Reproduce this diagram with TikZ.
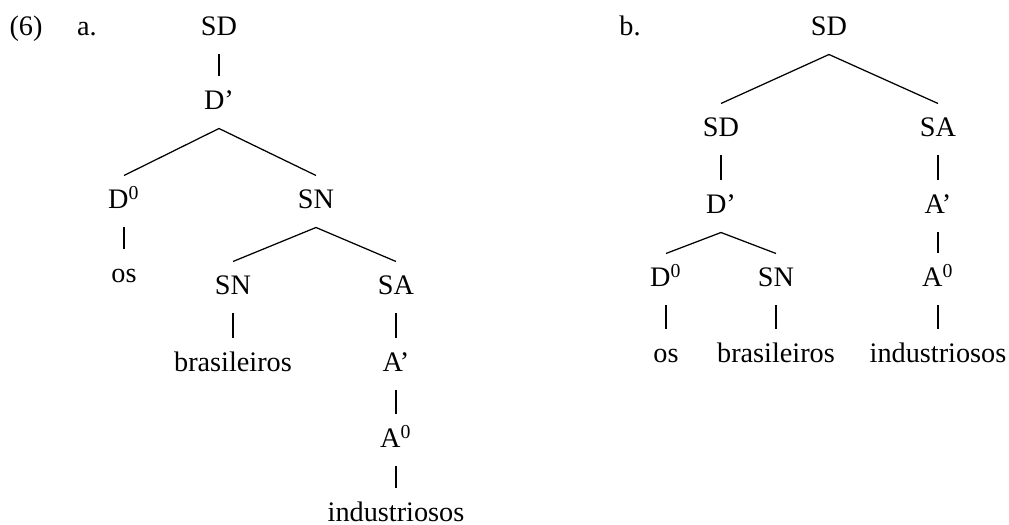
\documentclass[tikz,border=0pt]{standalone}
\usepackage{fontspec}
\setmainfont{Liberation Serif}

\begin{document}
\begin{tikzpicture}[x=0.4pt, y=-0.4pt, font=\fontsize{11.3}{13}\selectfont]
   \useasboundingbox (0,0) rectangle (1009,525);
   \begin{scope}[every node/.style={anchor=base, inner sep=0pt, text height=13.2pt, text depth=7.2pt}]
    \node (ex) at (26,36) {(6)};
    \node (la) at (87,36) {a.};
    \node (a1) at (219,36) {SD};
    \node (a2) at (219,110) {D'};
    \node (a3) at (124,209) {D\textsuperscript{0}};
    \node (a4) at (316,209) {SN};
    \node (a5) at (124,283) {os};
    \node (a6) at (233,295) {SN};
    \node (a7) at (396,295) {SA};
    \node (a8) at (233,372) {brasileiros};
    \node (a9) at (396,372) {A'};
    \node (a10) at (396,448) {A\textsuperscript{0}};
    \node (a11) at (396,522) {industriosos};
    % second tree
    \node (lb) at (630,36) {b.};
    \node (b1) at (829,36) {SD};
    \node (b2) at (721,137) {SD};
    \node (b3) at (938,137) {SA};
    \node (b4) at (721,214) {D'};
    \node (b5) at (938,214) {A'};
    \node (b6) at (666,287) {D\textsuperscript{0}};
    \node (b7) at (776,287) {SN};
    \node (b8) at (938,287) {A\textsuperscript{0}};
    \node (b9) at (666,363) {os};
    \node (b10) at (776,363) {brasileiros};
    \node (b11) at (938,363) {industriosos};
   \end{scope}
   \begin{scope}[every edge/.style={draw=black, line width=0.5pt}]
    \draw (a1.south) edge (a2.north);
    \draw (a2.south) edge (a3.north);
    \draw (a2.south) edge (a4.north);
    \draw (a3.south) edge (a5.north);
    \draw (a4.south) edge (a6.north);
    \draw (a4.south) edge (a7.north);
    \draw (a6.south) edge (a8.north);
    \draw (a7.south) edge (a9.north);
    \draw (a9.south) edge (a10.north);
    \draw (a10.south) edge (a11.north);
    \draw (b1.south) edge (b2.north);
    \draw (b1.south) edge (b3.north);
    \draw (b2.south) edge (b4.north);
    \draw (b3.south) edge (b5.north);
    \draw (b4.south) edge (b6.north);
    \draw (b4.south) edge (b7.north);
    \draw (b5.south) edge (b8.north);
    \draw (b6.south) edge (b9.north);
    \draw (b7.south) edge (b10.north);
    \draw (b8.south) edge (b11.north);
   \end{scope}
\end{tikzpicture}
\end{document}
